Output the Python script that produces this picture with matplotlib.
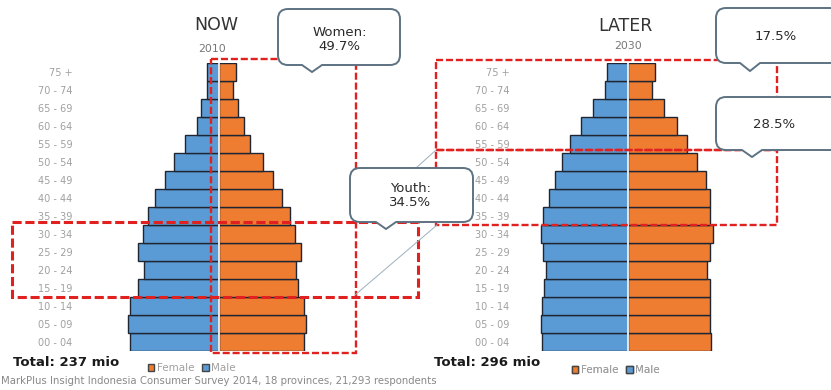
import numpy as np
import matplotlib.pyplot as plt
from matplotlib.path import Path
from matplotlib.patches import PathPatch, Rectangle, Patch

# age groups, bottom (youngest) to top
ages = ['00 - 04', '05 - 09', '10 - 14', '15 - 19', '20 - 24', '25 - 29', '30 - 34',
        '35 - 39', '40 - 44', '45 - 49', '50 - 54', '55 - 59', '60 - 64', '65 - 69',
        '70 - 74', '75 +']

# population in millions
male_2010 = [11.6, 11.9, 11.6, 10.5, 9.8, 10.5, 9.9, 9.2, 8.3, 7.0, 5.9, 4.4, 2.9, 2.3, 1.5, 1.6]
female_2010 = [11.1, 11.3, 11.1, 10.3, 10.0, 10.7, 9.9, 9.2, 8.2, 7.0, 5.7, 4.0, 3.2, 2.5, 1.8, 2.2]
male_2030 = [11.3, 11.4, 11.3, 11.0, 10.7, 11.1, 11.4, 11.1, 10.4, 9.6, 8.7, 7.6, 6.2, 4.6, 3.0, 2.8]
female_2030 = [10.8, 10.7, 10.7, 10.6, 10.3, 10.7, 11.1, 10.7, 10.7, 10.1, 9.0, 7.7, 6.3, 4.6, 3.1, 3.5]

BLUE = '#5b9bd5'
ORANGE = '#ee7d31'
RED = '#e0211f'
EDGE = '#5d7282'

W, H = 831, 390
fig = plt.figure(figsize=(W / 100, H / 100), dpi=100)


def pyramid(center_px, male, female, pad):
    # axes 200 px wide, rows from y=63 to y=351 px
    ax = fig.add_axes([(center_px - 100) / W, 1 - 351 / H, 200 / W, 288 / H])
    y = np.arange(len(ages))
    ax.barh(y, -np.array(male), height=1.0, color=BLUE, edgecolor='#1e2633', linewidth=1.0)
    ax.barh(y, female, height=1.0, color=ORANGE, edgecolor='#1e2633', linewidth=1.0)
    ax.axvline(0, color='#f4f4f4', lw=1.3)
    ax.set_xlim(-13.04, 13.04)
    ax.set_ylim(-0.5, len(ages) - 0.5)
    ax.set_yticks(y)
    ax.set_yticklabels(ages, fontsize=7, color='#a0a0a0')
    ax.tick_params(axis='y', length=0, pad=pad)
    ax.set_xticks([])
    for s in ax.spines.values():
        s.set_visible(False)
    ax.patch.set_alpha(0)
    return ax


ax1 = pyramid(219, male_2010, female_2010, 33.5)
ax2 = pyramid(628.3, male_2030, female_2030, 13.5)

# overlay in pixel coordinates for titles, boxes and callouts
ov = fig.add_axes([0, 0, 1, 1])
ov.set_xlim(0, W)
ov.set_ylim(H, 0)
ov.axis('off')
ov.patch.set_alpha(0)


def dashed_box(x0, y0, x1, y1, lw=1.7):
    ov.add_patch(Rectangle((x0, y0), x1 - x0, y1 - y0, fill=False, edgecolor=RED,
                           lw=lw, linestyle=(0, (3, 1.2)), zorder=2))


def callout(x0, y0, x1, y1, nx, ny, nw=10, r=10):
    verts = [(x0 + r, y0), (x1 - r, y0), (x1, y0), (x1, y0 + r), (x1, y1 - r), (x1, y1),
             (x1 - r, y1), (nx + nw, y1), (nx, ny), (nx - nw, y1), (x0 + r, y1), (x0, y1),
             (x0, y1 - r), (x0, y0 + r), (x0, y0), (x0 + r, y0)]
    codes = [Path.MOVETO, Path.LINETO, Path.CURVE3, Path.CURVE3, Path.LINETO, Path.CURVE3,
             Path.CURVE3, Path.LINETO, Path.LINETO, Path.LINETO, Path.LINETO, Path.CURVE3,
             Path.CURVE3, Path.LINETO, Path.CURVE3, Path.CURVE3]
    ov.add_patch(PathPatch(Path(verts, codes), facecolor='white', edgecolor=EDGE,
                           lw=1.4, zorder=5))


def label(x, y, s):
    ov.text(x, y, s, ha='center', va='center', fontsize=9.5, color='#2a2a2a', zorder=6)


# red boxes
dashed_box(211, 59, 356, 353)
dashed_box(12, 222, 418, 297, lw=2.2)
dashed_box(436, 60, 777, 150)
dashed_box(436, 150, 777, 225)

# connector lines
ov.plot([436, 416], [150, 168], color='#9bb0bf', lw=0.7, zorder=3)
ov.plot([437, 355], [225, 295], color='#9bb0bf', lw=0.7, zorder=3)

# callouts
callout(278, 9, 400, 65, 312, 72)
label(340, 32, 'Women:')
label(339, 46, '49.7%')

callout(350, 168, 473, 222, 386, 229)
label(411, 188, 'Youth:')
label(410, 202, '34.5%')

callout(716, 8, 840, 63, 750, 71)
label(776, 37, '17.5%')

callout(716, 97, 840, 150, 752, 157)
label(774, 124, '28.5%')

# titles
ov.text(216, 25, 'NOW', ha='center', va='center', fontsize=12.5, color='#333333')
ov.text(212, 49, '2010', ha='center', va='center', fontsize=7.8, color='#777777')
ov.text(625, 26, 'LATER', ha='center', va='center', fontsize=12.5, color='#333333')
ov.text(628, 46, '2030', ha='center', va='center', fontsize=7.8, color='#777777')

# totals
ov.text(13, 363, 'Total: 237 mio', ha='left', va='center', fontsize=9.5,
        fontweight='bold', color='#1a1a1a')
ov.text(434, 362, 'Total: 296 mio', ha='left', va='center', fontsize=9.5,
        fontweight='bold', color='#1a1a1a')

# legends
handles = [Patch(facecolor=ORANGE, edgecolor='#444444'), Patch(facecolor=BLUE, edgecolor='#444444')]
for lx, ly in [(143, 368), (567, 370)]:
    leg = ov.legend(handles, ['Female', 'Male'], loc='center left', bbox_to_anchor=(lx, ly),
                    bbox_transform=ov.transData, ncol=2, frameon=False, fontsize=7.5,
                    handlelength=0.6, handleheight=0.6, handletextpad=0.2,
                    columnspacing=0.8, borderpad=0, labelcolor='#a0a0a0')
    ov.add_artist(leg)

# source
ov.text(1, 381, 'MarkPlus Insight Indonesia Consumer Survey 2014, 18 provinces, 21,293 respondents',
        ha='left', va='center', fontsize=7.3, color='#888888')

fig.savefig('out.png', dpi=100)
